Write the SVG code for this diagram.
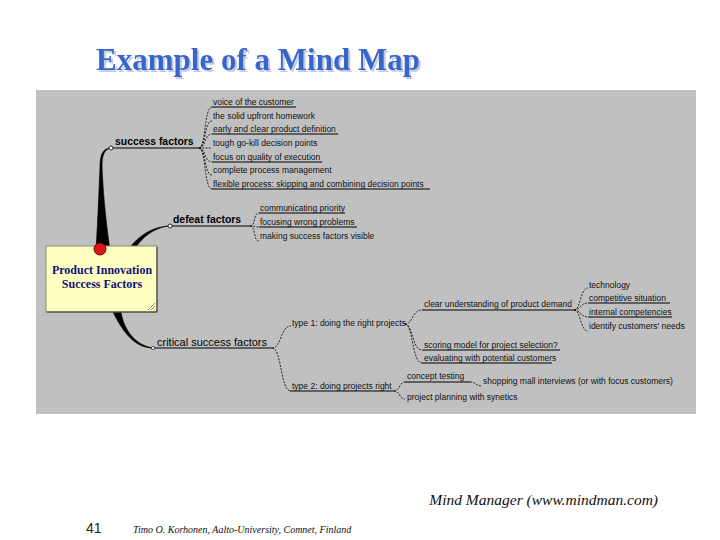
<svg xmlns="http://www.w3.org/2000/svg" width="720" height="540" viewBox="0 0 720 540">
<defs>
<style>
.t{font-family:"Liberation Sans",Arial,sans-serif;font-size:8.5px;fill:#111}
.b{font-family:"Liberation Sans",Arial,sans-serif;font-weight:bold;font-size:10.4px;fill:#000}
.c{fill:none;stroke:#000;stroke-width:0.8;stroke-dasharray:2 1.3}
.u{stroke:#000;stroke-width:1}
.stem{fill:#000;stroke:#000;stroke-width:0.6}
.title{font-family:"Liberation Serif","Times New Roman",serif;font-weight:bold;font-size:31px}
</style>
<filter id="shadow" x="-5%" y="-20%" width="115%" height="150%">
<feDropShadow dx="2" dy="2" stdDeviation="0.3" flood-color="#c3cbe6" flood-opacity="1"/>
</filter>
</defs>
<rect width="720" height="540" fill="#fff"/>
<g id="title">
<text class="title" x="258" y="70" text-anchor="middle" fill="#3866c8" filter="url(#shadow)">Example of a Mind Map</text>
</g>
<rect x="36" y="90" width="660" height="324" fill="#c0c0c0"/>

<g id="connectors">
<path class="stem" d="M96,250 C98,215 99,190 100,166 C100,153 104,148 111,148 C105,149 102,154 102,166 C103,190 105,215 110,250 Z"/>
<path class="stem" d="M130,247 L136,247 C143,237 152,229 168,226 C153,227 141,234 130,247 Z"/>
<path class="stem" d="M113,312 L121,312 C124,330 135,345 153,348 C139,348 126,339 113,312 Z"/>
<line class="u" x1="111" y1="148" x2="199" y2="148"/>
<line class="u" x1="168" y1="226" x2="250" y2="226"/>
<line class="u" x1="153" y1="348" x2="272" y2="348"/>
<circle cx="111" cy="148" r="2" fill="#fff" stroke="#000" stroke-width="0.8"/>
<circle cx="170" cy="226" r="2" fill="#fff" stroke="#000" stroke-width="0.8"/>
<circle cx="153" cy="348" r="1.6" fill="#fff" stroke="#000" stroke-width="0.6"/>
<path class="c" d="M199,148 C206,148 204,107 212,107"/>
<path class="c" d="M199,148 C206,148 204,121 212,121"/>
<path class="c" d="M199,148 C206,148 204,134 212,134"/>
<path class="c" d="M199,148 C206,148 205,148 212,148"/>
<path class="c" d="M199,148 C206,148 204,162 212,162"/>
<path class="c" d="M199,148 C206,148 204,175 212,175"/>
<path class="c" d="M199,148 C206,148 204,189 212,189"/>
<path class="c" d="M250,226 C256,226 253,213 259,213"/>
<path class="c" d="M250,226 C255,226 254,227 259,227"/>
<path class="c" d="M250,226 C256,226 253,241 259,241"/>
<path class="c" d="M272,348 C282,348 280,326 291,326"/>
<path class="c" d="M272,348 C282,348 280,391 291,391"/>
<path class="c" d="M405,324 C413,324 412,310 422,310"/>
<path class="c" d="M405,324 C413,324 412,350 422,350"/>
<path class="c" d="M405,324 C413,324 412,363 422,363"/>
<path class="c" d="M394,391 C400,391 399,382 405,382"/>
<path class="c" d="M394,391 C400,391 399,399 405,399"/>
<path class="c" d="M470,382 C476,382 476,386 482,386"/>
<path class="c" d="M574,310 C581,310 580,288 588,288"/>
<path class="c" d="M574,310 C581,310 580,303 588,303"/>
<path class="c" d="M574,310 C581,310 580,317 588,317"/>
<path class="c" d="M574,310 C581,310 580,331 588,331"/>
</g>

<g id="central">
<rect x="46" y="246" width="111" height="66" fill="#ffffc2" stroke="#8a8a70" stroke-width="1"/>
<polyline points="157,247 157,312 47,312" fill="none" stroke="#333" stroke-width="1"/>
<text x="102" y="274" text-anchor="middle" font-family="'Liberation Serif','Times New Roman',serif" font-weight="bold" font-size="12" fill="#10107a">Product Innovation</text>
<text x="102" y="288" text-anchor="middle" font-family="'Liberation Serif','Times New Roman',serif" font-weight="bold" font-size="12" fill="#10107a">Success Factors</text>
<path d="M148,310 L155,303 M151,310 L155,306" stroke="#666" stroke-width="0.8" fill="none"/>
<circle cx="100" cy="249" r="6" fill="#d81414" stroke="#7a0000" stroke-width="1"/>
</g>

<g id="success-factors">
<text class="b" x="115" y="145">success factors</text>
<text class="t" x="213" y="105">voice of the customer</text>
<line class="u" x1="212" y1="107" x2="296" y2="107"/>
<text class="t" x="213" y="119">the solid upfront homework</text>
<text class="t" x="213" y="132">early and clear product definition</text>
<line class="u" x1="212" y1="134" x2="338" y2="134"/>
<text class="t" x="213" y="146">tough go-kill decision points</text>
<text class="t" x="213" y="160">focus on quality of execution</text>
<line class="u" x1="212" y1="162" x2="322" y2="162"/>
<text class="t" x="213" y="173">complete process management</text>
<text class="t" x="213" y="187">flexible process: skipping and combining decision points</text>
<line class="u" x1="212" y1="189" x2="430" y2="189"/>
</g>

<g id="defeat-factors">
<text class="b" x="173" y="223">defeat factors</text>
<text class="t" x="260" y="211">communicating priority</text>
<line class="u" x1="259" y1="213" x2="345" y2="213"/>
<text class="t" x="260" y="225">focusing wrong problems</text>
<line class="u" x1="259" y1="227" x2="357" y2="227"/>
<text class="t" x="260" y="239">making success factors visible</text>
</g>

<g id="critical-success-factors">
<text x="157" y="346" font-family="'Liberation Sans',Arial,sans-serif" font-size="11" fill="#000">critical success factors</text>
</g>

<g id="type1">
<text class="t" x="292" y="326">type 1: doing the right projects</text>
</g>
<g id="clear-understanding">
<text class="t" x="424" y="307">clear understanding of product demand</text>
<line class="u" x1="422" y1="310" x2="574" y2="310"/>
<text class="t" x="589" y="288">technology</text>
<text class="t" x="589" y="301">competitive situation</text>
<line class="u" x1="588" y1="303" x2="670" y2="303"/>
<text class="t" x="589" y="315">internal competencies</text>
<line class="u" x1="588" y1="317" x2="672" y2="317"/>
<text class="t" x="589" y="329">identify customers' needs</text>
</g>
<g id="scoring">
<text class="t" x="424" y="348">scoring model for project selection?</text>
<line class="u" x1="422" y1="350" x2="560" y2="350"/>
</g>
<g id="evaluating">
<text class="t" x="424" y="361">evaluating with potential customers</text>
<line class="u" x1="422" y1="363" x2="552" y2="363"/>
</g>
<g id="type2">
<text class="t" x="292" y="389">type 2: doing projects right</text>
<line class="u" x1="290" y1="391" x2="394" y2="391"/>
</g>
<g id="concept-testing">
<text class="t" x="407" y="379">concept testing</text>
<line class="u" x1="405" y1="382" x2="470" y2="382"/>
<text class="t" x="483" y="384">shopping mall interviews (or with focus customers)</text>
</g>
<g id="project-planning">
<text class="t" x="407" y="400">project planning with synetics</text>
</g>

<g id="footer">
<text x="658" y="505" text-anchor="end" font-family="'Liberation Serif','Times New Roman',serif" font-style="italic" font-size="15.5" fill="#111">Mind Manager (www.mindman.com)</text>
<text x="86" y="533" font-family="'Liberation Sans',Arial,sans-serif" font-size="14" fill="#222">41</text>
<text x="133" y="533" font-family="'Liberation Serif','Times New Roman',serif" font-style="italic" font-size="10" fill="#111">Timo O. Korhonen, Aalto-University, Comnet, Finland</text>
</g>
</svg>
